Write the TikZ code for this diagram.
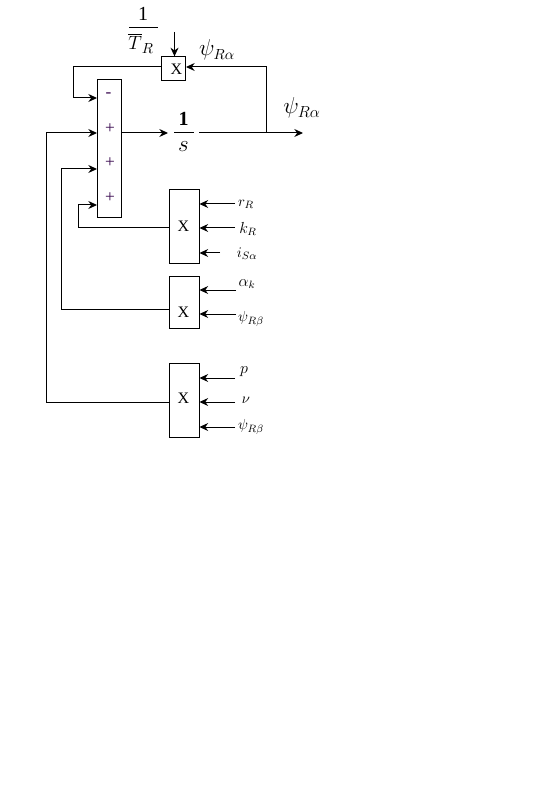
\documentclass[tikz,border=0pt]{standalone}
\usepackage{amsmath}
\usepackage{fontspec}
\setmainfont{Liberation Serif}
\usetikzlibrary{arrows.meta, calc}
\definecolor{signcol}{HTML}{3A0A50}

\begin{document}
\begin{tikzpicture}[x=0.75pt, y=-0.75pt, >={Stealth[length=6.5pt, width=6pt]}, line width=0.75pt,
    block/.style={draw, inner sep=0pt, font=\fontsize{12}{12}\selectfont},
    mark text/.style={inner sep=0pt, font=\fontsize{12}{12}\selectfont},
    sign/.style={text=signcol, inner sep=0pt, font=\fontsize{13}{13}\selectfont},
    lbl/.style={inner sep=0pt, font=\fontsize{11}{11}\selectfont}]
    % ================= Canvas =================
    \path[use as bounding box] (0, 0) rectangle (536, 798);

    % ================= Blocks =================
    \node[block, minimum width=18pt, minimum height=103pt] (sum) at (109.5, 148.5) {};
    \node[block, minimum width=18pt, minimum height=17.5pt] (mulT) at (173.5, 68.5) {};
    \node[block, minimum width=22.5pt, minimum height=55.5pt] (mulA) at (184, 227) {};
    \node[block, minimum width=22.5pt, minimum height=39.5pt] (mulB) at (184, 302.5) {};
    \node[block, minimum width=22.5pt, minimum height=55pt] (mulC) at (184, 400.5) {};

    % Marks inside the blocks
    \node[mark text] (xT) at (176.5, 69) {X};
    \node[mark text] (xA) at (183.5, 226) {X};
    \node[mark text] (xB) at (183.5, 312) {X};
    \node[mark text] (xC) at (183.5, 398.5) {X};

    % Signs of the summing block
    \node[sign] (s1) at (108.5, 95) {-};
    \node[sign] (s2) at (110, 128.5) {+};
    \node[sign] (s3) at (110, 162.5) {+};
    \node[sign] (s4) at (110, 197.5) {+};

    % ================= Integrator =================
    \node[inner sep=0pt, font=\fontsize{15}{15}\selectfont\bfseries] (one) at (183.5, 119) {1};
    \node[inner sep=0pt, font=\fontsize{16}{16}\selectfont] (s) at (183.5, 147) {$s$};
    \draw (174, 133) -- (194, 133);

    % ================= Time constant =================
    \node[inner sep=0pt, font=\fontsize{15}{15}\selectfont] (oneT) at (143, 14) {1};
    \node[inner sep=0pt, font=\fontsize{15}{15}\selectfont] (T) at (141, 43) {$\overline{T}_{R}$};
    \draw (129, 28) -- (158, 28);

    % ================= Free ends =================
    \coordinate (topIn) at (174.5, 32);
    \coordinate (intIn) at (168, 133);
    \coordinate (intOut) at (199, 133);
    \coordinate (out) at (303, 133);
    \coordinate (branch) at (266, 133);
    \coordinate (fb) at (266, 67);
    \coordinate (inR) at (235, 204);
    \coordinate (inK) at (235, 228);
    \coordinate (inI) at (220, 253);
    \coordinate (inAlpha) at (236, 290);
    \coordinate (inPsiA) at (236, 314);
    \coordinate (inP) at (235, 378);
    \coordinate (inV) at (235, 402);
    \coordinate (inPsiB) at (235, 427);

    % ================= Feedback =================
    \draw[->] (branch) -- (fb) -- (fb -| mulT.east);
    \draw[->] (topIn) -- (topIn |- mulT.north);
    \draw[->] (fb -| mulT.west) -- (73, 67) |- (97, 98);

    % ================= Forward path =================
    \draw[->] (sum.east |- intIn) -- (intIn);
    \draw[->] (intOut) -- (out);

    % ================= Products into the sum =================
    \draw[->] (mulC.west |- inV) -- (46, 402) |- (sum.west |- intIn);
    \draw[->] (mulB.west |- 0, 309) -- (61, 309) |- (97, 169);
    \draw[->] (mulA.west |- inK) -- (78.5, 228) |- (97, 205);

    % ================= Inputs =================
    \foreach \inp/\blk in {inR/mulA, inK/mulA, inI/mulA, inAlpha/mulB, inPsiA/mulB, inP/mulC, inV/mulC, inPsiB/mulC}
        \draw[->] (\inp) -- (\inp -| \blk.east);

    % ================= Labels =================
    \node[lbl, font=\fontsize{16}{16}\selectfont] (psiTop) at (217, 50) {$\psi_{R\alpha}$};
    \node[lbl, font=\fontsize{17}{17}\selectfont] (psiOut) at (302, 108) {$\psi_{R\alpha}$};
    \node[lbl] (lblR) at (246, 204) {$r_{R}$};
    \node[lbl, font=\fontsize{12}{12}\selectfont] (lblK) at (248, 229) {$k_{R}$};
    \node[lbl] (lblI) at (247, 254) {$i_{S\alpha}$};
    \node[lbl, font=\fontsize{12}{12}\selectfont] (lblAlpha) at (247, 284) {$\alpha_{k}$};
    \node[lbl] (lblPsiA) at (251, 319) {$\psi_{R\beta}$};
    \node[lbl, font=\fontsize{12}{12}\selectfont] (lblP) at (244, 372) {$p$};
    \node[lbl, font=\fontsize{11}{11}\selectfont] (lblV) at (246, 400) {$\nu$};
    \node[lbl] (lblPsiB) at (251, 427) {$\psi_{R\beta}$};

\end{tikzpicture}
\end{document}
